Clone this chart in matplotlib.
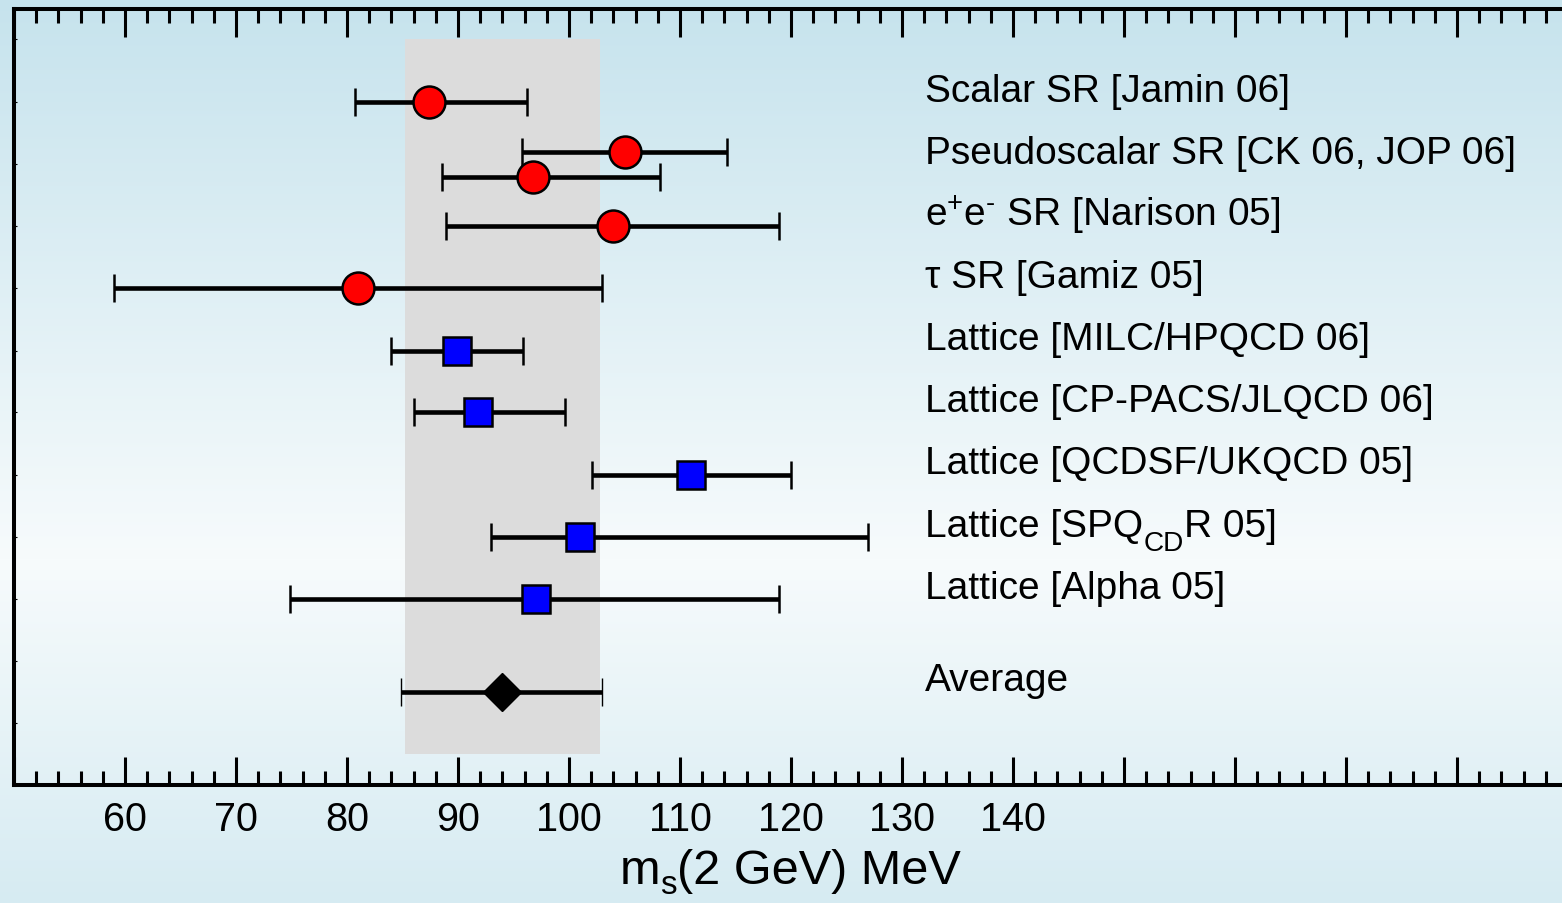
import numpy as np
import matplotlib
matplotlib.use("Agg")
import matplotlib.pyplot as plt
from matplotlib.ticker import MultipleLocator, FixedLocator, FuncFormatter
from matplotlib.transforms import IdentityTransform

plt.rcParams['font.family'] = ['Liberation Sans', 'DejaVu Sans']
plt.rcParams['mathtext.fontset'] = 'custom'
plt.rcParams['mathtext.rm'] = 'Liberation Sans'
plt.rcParams['mathtext.it'] = 'Liberation Sans:italic'

# ---- data ----
labels = [
    "Scalar SR [Jamin 06]",
    "Pseudoscalar SR [CK 06, JOP 06]",
    r"e$^{+}$e$^{‐}$ SR [Narison 05]",
    "τ SR [Gamiz 05]",
    "Lattice [MILC/HPQCD 06]",
    "Lattice [CP-PACS/JLQCD 06]",
    "Lattice [QCDSF/UKQCD 05]",
    None,  # rich text, see spq_parts
    "Lattice [Alpha 05]",
    "Average",
]
spq_parts = [("Lattice [SPQ", 1.0, 0), ("CD", 0.72, 14), ("R 05]", 1.0, 0)]
xlabel_parts = [("m", 1.0, 0), ("s", 0.68, 10), ("(2 GeV) MeV", 1.0, 0)]
sr_values = [87.4, 105.0, 96.8, 104.0, 81.0]
sr_low = [80.7, 95.8, 88.6, 88.9, 59.0]
sr_high = [96.2, 114.2, 108.2, 118.9, 103.0]
lat_values = [89.9, 91.8, 111.0, 101.0, 97.0]
lat_low = [84.0, 86.0, 102.1, 93.0, 74.9]
lat_high = [95.9, 99.6, 120.0, 126.9, 118.9]
avg_value = 94.0
avg_low = 84.9
avg_high = 103.0
band_low = 85.2
band_high = 102.8
tick_labels = ["60", "70", "80", "90", "100", "110", "120", "130", "140"]

# ---- layout (vertical positions in pixel-like units, top = 10) ----
sr_rows = [103, 153, 178, 227, 289]
lat_rows = [352, 413, 476, 538, 600]
avg_row = 693
label_rows = [102, 164, 226, 288, 350, 412, 474, 537, 599, 691]

W, H = 1562, 904
fig = plt.figure(figsize=(W / 100, H / 100), dpi=100)
renderer = fig.canvas.get_renderer()

# background gradient
bg = fig.add_axes([0, 0, 1, 1], zorder=-10)
ys = np.arange(H)
stops_y = [0, 560, H - 1]
cols = np.array([[198, 227, 237], [247, 251, 252], [214, 235, 242]]) / 255.0
grad = np.stack([np.interp(ys, stops_y, cols[:, k]) for k in range(3)], axis=1)
img = np.repeat(grad[:, None, :], 4, axis=1)
bg.imshow(img, aspect='auto', extent=[0, 1, 0, 1], origin='upper')
bg.set_axis_off()

left = 14 / W
bottom = (H - 786) / H
top = (H - 10) / H
ax = fig.add_axes([left, bottom, 1 - left, top - bottom])
ax.set_facecolor('none')
xmin = 50.0
xmax = 50.0 + (W - 14) / 11.1
ax.set_xlim(xmin, xmax)
ax.set_ylim(786, 10)

# gray band
ax.fill_between([band_low, band_high], 755, 40, color='#dcdcdc', lw=0, zorder=1)

lw = 3.3
ekw = dict(ecolor='black', elinewidth=lw, capsize=10, capthick=lw, zorder=3)
for v, lo, hi, r in zip(sr_values, sr_low, sr_high, sr_rows):
    ax.errorbar([v], [r], xerr=[[v - lo], [hi - v]], fmt='o', ms=23,
                mfc='#ff0000', mec='black', mew=1.8, **ekw)
for v, lo, hi, r in zip(lat_values, lat_low, lat_high, lat_rows):
    ax.errorbar([v], [r], xerr=[[v - lo], [hi - v]], fmt='s', ms=19.5,
                mfc='#0000ff', mec='black', mew=1.8, **ekw)
ax.errorbar([avg_value], [avg_row], xerr=[[avg_value - avg_low], [avg_high - avg_value]],
            fmt='D', ms=19, mfc='black', mec='black', mew=1, **ekw)


def rich_text(x_px, base_px, parts, size, center=False):
    """Draw text pieces with manual sub-script offsets, in display pixels."""
    arts = []
    x = x_px
    for s, scale, dy in parts:
        t = fig.text(x, base_px - dy, s, fontsize=size * scale, va='baseline',
                     ha='left', transform=IdentityTransform(), zorder=5)
        bb = t.get_window_extent(renderer)
        arts.append(t)
        x = bb.x1
    if center:
        shift = (x - x_px) / 2
        for t in arts:
            px, py = t.get_position()
            t.set_position((px - shift, py))
    return arts


label_x = 132.1
for lab, r in zip(labels, label_rows):
    if lab is None:
        xd, yd = ax.transData.transform((label_x, r))
        rich_text(xd, yd, spq_parts, 28)
    else:
        ax.text(label_x, r, lab, fontsize=28, va='baseline', ha='left', zorder=4)

# spines & ticks
for s in ['left', 'top', 'bottom']:
    ax.spines[s].set_linewidth(2.9)
ax.spines['right'].set_visible(False)

majors = np.arange(50, 200, 10)
ax.xaxis.set_major_locator(FixedLocator(majors))
ax.xaxis.set_minor_locator(MultipleLocator(2))
lab_map = {int(t): s for t, s in zip(range(60, 150, 10), tick_labels)}
ax.xaxis.set_major_formatter(FuncFormatter(lambda x, p: lab_map.get(int(round(x)), "")))
ax.tick_params(axis='x', which='major', direction='in', length=20, width=2.2,
               top=True, bottom=True, labelsize=28.5, pad=11)
ax.tick_params(axis='x', which='minor', direction='in', length=10, width=2.2,
               top=True, bottom=True)
ax.yaxis.set_major_locator(FixedLocator([40, 103, 165, 227, 289, 352, 413, 476, 538, 600, 662, 724]))
ax.yaxis.set_major_formatter(FuncFormatter(lambda y, p: ""))
ax.tick_params(axis='y', which='major', direction='in', length=2, width=0.8, left=True, right=False)

rich_text(790, H - 884, xlabel_parts, 35, center=True)

fig.savefig("out.png", dpi=100)
